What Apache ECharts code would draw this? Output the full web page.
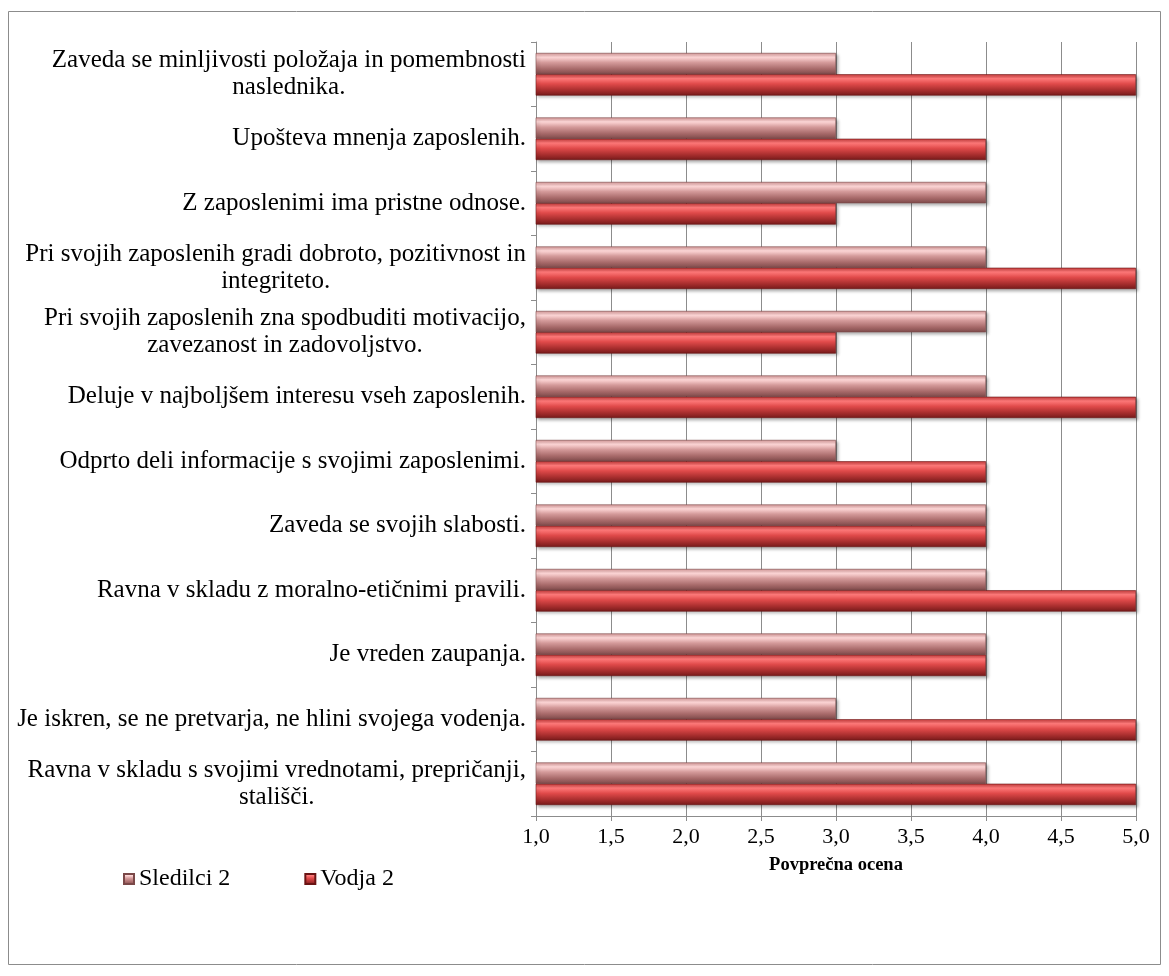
<!DOCTYPE html>
<html>
<head>
<meta charset="utf-8">
<script src="https://cdn.jsdelivr.net/npm/echarts@6/dist/echarts.min.js"></script>
<style>
  html, body { margin: 0; padding: 0; background: #fff; }
  #main { width: 1169px; height: 976px; }
</style>
</head>
<body>
<div id="main"></div>
<script>
// trditve, od zgoraj navzdol
var categories = [
    'Zaveda se minljivosti položaja in pomembnosti\nnaslednika.',
    'Upošteva mnenja zaposlenih.',
    'Z zaposlenimi ima pristne odnose.',
    'Pri svojih zaposlenih gradi dobroto, pozitivnost in\nintegriteto.',
    'Pri svojih zaposlenih zna spodbuditi motivacijo,\nzavezanost in zadovoljstvo.',
    'Deluje v najboljšem interesu vseh zaposlenih.',
    'Odprto deli informacije s svojimi zaposlenimi.',
    'Zaveda se svojih slabosti.',
    'Ravna v skladu z moralno-etičnimi pravili.',
    'Je vreden zaupanja.',
    'Je iskren, se ne pretvarja, ne hlini svojega vodenja.',
    'Ravna v skladu s svojimi vrednotami, prepričanji,\nstališči.'
];
var sledilci = [3, 3, 4, 4, 4, 4, 3, 4, 4, 4, 3, 4];
var vodja = [5, 4, 3, 5, 3, 5, 4, 4, 5, 4, 5, 5];
var seriesNames = ['Sledilci 2', 'Vodja 2'];
var axisTitle = 'Povprečna ocena';

var font = '"Liberation Serif", "Times New Roman", serif';

function grad(stops) {
    return new echarts.graphic.LinearGradient(0, 0, 0, 1, stops.map(function(s) {
        return { offset: s[0], color: s[1] };
    }));
}

var pinkFill = grad([[0, '#d89a9a'], [0.2, '#ffd8d8'], [0.45, '#d49a9a'], [0.75, '#a86a6a'], [1, '#7e4a4a']]);
var redFill = grad([[0, '#c83c3c'], [0.2, '#ff7a7a'], [0.45, '#e04a4a'], [0.75, '#a82e2e'], [1, '#761a1a']]);

var chart = echarts.init(document.getElementById('main'));
chart.setOption({
    backgroundColor: '#fff',
    animation: false,
    textStyle: { fontFamily: font },
    graphic: [{
        type: 'rect',
        shape: { x: 8.5, y: 11.5, width: 1152, height: 953 },
        style: { fill: 'none', stroke: '#8c8c8c', lineWidth: 1 }
    }],
    grid: { left: 536, right: 33, top: 42, bottom: 160 },
    legend: {
        left: 118,
        top: 862,
        itemWidth: 10,
        itemHeight: 10,
        itemGap: 74,
        icon: 'rect',
        textStyle: { fontFamily: font, fontSize: 24, color: '#000', padding: [3, 0, 0, 0] },
        data: seriesNames
    },
    xAxis: {
        type: 'value',
        min: 1,
        max: 5,
        interval: 0.5,
        name: axisTitle,
        nameLocation: 'middle',
        nameGap: 40,
        nameTextStyle: { fontFamily: font, fontSize: 18.5, fontWeight: 'bold', color: '#000' },
        axisLine: { show: true, lineStyle: { color: '#8c8c8c' } },
        axisTick: { show: true, length: 5, lineStyle: { color: '#8c8c8c' } },
        axisLabel: {
            fontFamily: font, fontSize: 22, color: '#000', margin: 10,
            formatter: function(v) { return v.toFixed(1).replace('.', ','); }
        },
        splitLine: { show: true, lineStyle: { color: '#8c8c8c', width: 1 } }
    },
    yAxis: {
        type: 'category',
        inverse: true,
        data: categories,
        axisLine: { show: true, lineStyle: { color: '#8c8c8c' } },
        axisTick: { show: true, length: 5, lineStyle: { color: '#8c8c8c' } },
        axisLabel: {
            fontFamily: font, fontSize: 25, color: '#000', margin: 10, lineHeight: 27,
            formatter: function(v) {
                return v.split('\n').map(function(l) { return '{c|' + l + '}'; }).join('\n');
            },
            rich: { c: { align: 'center', fontFamily: font, fontSize: 25, lineHeight: 27, color: '#000' } }
        },
        splitLine: { show: false }
    },
    series: [{
        name: seriesNames[0],
        type: 'bar',
        data: sledilci,
        barCategoryGap: '34%',
        barGap: '0%',
        itemStyle: {
            color: pinkFill,
            borderColor: '#7a4848',
            borderWidth: 0.6,
            shadowColor: 'rgba(0,0,0,0.3)', shadowBlur: 3, shadowOffsetX: 2, shadowOffsetY: 2
        }
    }, {
        name: seriesNames[1],
        type: 'bar',
        data: vodja,
        barCategoryGap: '34%',
        barGap: '0%',
        itemStyle: {
            color: redFill,
            borderColor: '#6a1414',
            borderWidth: 0.6,
            shadowColor: 'rgba(0,0,0,0.3)', shadowBlur: 3, shadowOffsetX: 2, shadowOffsetY: 2
        }
    }]
});
</script>
</body>
</html>
